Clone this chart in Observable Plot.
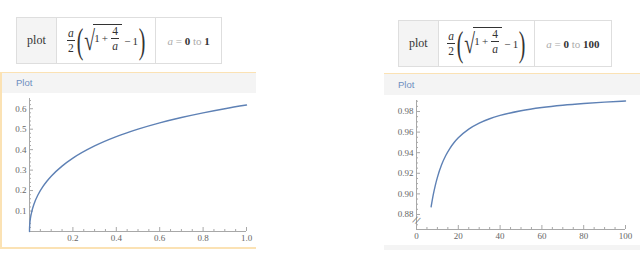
<!DOCTYPE html>
<html><head><meta charset="utf-8">
<script src="https://cdn.jsdelivr.net/npm/d3@7"></script>
<script src="https://cdn.jsdelivr.net/npm/@observablehq/plot@0.6"></script>
<style>
html,body{margin:0;padding:0;background:#fff;}
#root{position:relative;width:640px;height:266px;overflow:hidden;}
.abs{position:absolute;}
.box{position:absolute;display:flex;border:1px solid #dedede;box-sizing:border-box;background:#fff;}
.cell{display:flex;align-items:center;justify-content:center;box-sizing:border-box;font-family:"Liberation Serif",serif;color:#333;}
.cell+.cell{border-left:1px solid #dedede;}
.pl{background:#f4f4f4;font-size:12px;}
.frac{display:inline-flex;flex-direction:column;align-items:center;vertical-align:middle;font-size:11.5px;line-height:12px;margin:0 1px;}
.frac > span:first-child{border-bottom:0.8px solid #333;padding:0 1px 1px 1px;}
.frac > span:last-child{padding-top:1px;}
.paren{font-size:36px;line-height:36px;transform:scaleX(0.55);display:inline-block;vertical-align:middle;font-weight:300;color:#333;margin:0 -2px;}
.sqrt{font-size:28px;line-height:28px;display:inline-block;vertical-align:middle;transform:scaleX(0.7);margin-right:-4px;margin-left:-2px;}
.rad{display:inline-flex;align-items:center;border-top:0.8px solid #333;font-size:11px;padding:0 2px 0 1px;margin-top:-6px;}
.f{font-size:11px;display:flex;align-items:center;}
.rng{font-size:11px;color:#aaa;}
.rng b{color:#333;}
.hdr{position:absolute;background:#f4f4f4;font-family:"Liberation Sans",Arial,sans-serif;font-size:9.5px;color:#6e8fc0;box-sizing:border-box;}
</style></head>
<body><div id="root">
  <div class="box" style="left:16px;top:17px;width:206px;height:47px">
    <div class="cell pl" style="width:39px">plot</div>
    <div class="cell f" style="width:100px"><span class="frac"><span><i>a</i></span><span>2</span></span><span class="paren">(</span><span class="sqrt">√</span><span class="rad">1&thinsp;+&thinsp;<span class="frac"><span>4</span><span><i>a</i></span></span></span>&thinsp;−&thinsp;1<span class="paren">)</span></div>
    <div class="cell rng" style="width:66px"><i>a</i>&nbsp;=&nbsp;<b>0</b>&nbsp;to&nbsp;<b>1</b></div>
  </div>
  <div class="box" style="left:398px;top:20px;width:214px;height:47px">
    <div class="cell pl" style="width:39px">plot</div>
    <div class="cell f" style="width:97px"><span class="frac"><span><i>a</i></span><span>2</span></span><span class="paren">(</span><span class="sqrt">√</span><span class="rad">1&thinsp;+&thinsp;<span class="frac"><span>4</span><span><i>a</i></span></span></span>&thinsp;−&thinsp;1<span class="paren">)</span></div>
    <div class="cell rng" style="width:78px"><i>a</i>&nbsp;=&nbsp;<b>0</b>&nbsp;to&nbsp;<b>100</b></div>
  </div>

  <div class="abs" style="left:0;top:72px;width:256px;height:177px;border-top:1px solid #fbe2b4;border-left:2px solid #fbe2b4;border-bottom:2px solid #fbe2b4;box-sizing:border-box;"></div>
  <div class="hdr" style="left:2px;top:73px;width:254px;height:20px;padding:4px 0 0 14px;">Plot</div>
  <div id="p1" class="abs" style="left:0;top:93px;"></div>

  <div class="abs" style="left:384px;top:73px;width:256px;height:1px;background:#fbe2b4;"></div>
  <div class="hdr" style="left:384px;top:74px;width:256px;height:21px;padding:5px 0 0 14px;">Plot</div>
  <div id="p2" class="abs" style="left:384px;top:95px;"></div>
  <div class="abs" style="left:384px;top:245px;width:256px;height:5px;background:#f4f4f4;"></div>
</div>
<script>
// ---- data: left chart (a from 0 to 1) ----
const aLeft = [0, 0.0002, 0.001, 0.005, 0.01, 0.02, 0.04, 0.06, 0.08, 0.1, 0.15, 0.2, 0.3, 0.4, 0.5, 0.6, 0.7, 0.8, 0.9, 1.0];
const fLeft = [0, 0.0140, 0.0311, 0.0683, 0.0951, 0.1318, 0.1810, 0.2168, 0.2457, 0.2702, 0.3195, 0.3583, 0.4179, 0.4633, 0.5000, 0.5307, 0.5569, 0.5798, 0.6000, 0.6180];
const xTicksLeft = [0.2, 0.4, 0.6, 0.8, 1.0];
const xMinorLeft = [0.05,0.1,0.15,0.25,0.3,0.35,0.45,0.5,0.55,0.65,0.7,0.75,0.85,0.9,0.95];
const yTicksLeft = [0.1, 0.2, 0.3, 0.4, 0.5, 0.6];
const yMinorLeft = [0.02,0.04,0.06,0.08,0.12,0.14,0.16,0.18,0.22,0.24,0.26,0.28,0.32,0.34,0.36,0.38,0.42,0.44,0.46,0.48,0.52,0.54,0.56,0.58,0.62,0.64];

// ---- data: right chart (a from 0 to 100) ----
const aRight = [7, 8, 9, 10, 12, 14, 16, 18, 20, 25, 30, 35, 40, 50, 60, 70, 80, 90, 100];
const fRight = [0.88748, 0.89898, 0.90833, 0.91608, 0.92820, 0.93725, 0.94427, 0.94987, 0.95445, 0.96291, 0.96872, 0.97296, 0.97618, 0.98076, 0.98387, 0.98611, 0.98780, 0.98913, 0.99020];
const xTicksRight = [0, 20, 40, 60, 80, 100];
const xMinorRight = [5,10,15,25,30,35,45,50,55,65,70,75,85,90,95];
const yTicksRight = [0.88, 0.90, 0.92, 0.94, 0.96, 0.98];
const yMinorRight = [0.87,0.885,0.89,0.895,0.905,0.91,0.915,0.925,0.93,0.935,0.945,0.95,0.955,0.965,0.97,0.975,0.985,0.99];
const breakAt = [0.8745];

const lineColor = "#5e81b5";
const axisColor = "#a8a8a8";
const labelStyle = {fontFamily: "'Liberation Serif', serif", fontSize: "9px", color: "#666", background: "transparent", overflow: "visible"};

function chart({w, h, mt, mr, mb, ml, xd, yd, xs, ys, xT, xM, yT, yM, xFmt, yFmt, extra = []}) {
  const ph = h - mt - mb, pw = w - ml - mr;
  return Plot.plot({
    width: w, height: h, marginTop: mt, marginRight: mr, marginBottom: mb, marginLeft: ml,
    x: {domain: xd, axis: null},
    y: {domain: yd, axis: null},
    style: labelStyle,
    marks: [
      Plot.ruleX([xd[0]], {stroke: axisColor}),
      Plot.ruleY([yd[0]], {stroke: axisColor}),
      Plot.tickX(xT, {x: d => d, stroke: axisColor, insetTop: ph - 4}),
      Plot.tickX(xM, {x: d => d, stroke: axisColor, insetTop: ph - 2}),
      Plot.tickY(yT, {y: d => d, stroke: axisColor, insetRight: pw - 4}),
      Plot.tickY(yM, {y: d => d, stroke: axisColor, insetRight: pw - 2}),
      Plot.axisX(xT, {tickSize: 0, tickPadding: 3, tickFormat: xFmt, fill: "#666", label: null}),
      Plot.axisY(yT, {tickSize: 0, tickPadding: 3, tickFormat: yFmt, fill: "#666", label: null}),
      ...extra,
      Plot.line(xs.map((x, i) => ({x, y: ys[i]})), {x: "x", y: "y", stroke: lineColor, strokeWidth: 1.4, curve: "monotone-x"})
    ]
  });
}

document.getElementById("p1").append(chart({
  w: 256, h: 155, mt: 5, mr: 10, mb: 17, ml: 29,
  xd: [0, 1], yd: [0, 0.65], xs: aLeft, ys: fLeft,
  xT: xTicksLeft, xM: xMinorLeft, yT: yTicksLeft, yM: yMinorLeft,
  xFmt: d3.format(".1f"), yFmt: d3.format(".1f")
}));

document.getElementById("p2").append(chart({
  w: 256, h: 150, mt: 5, mr: 15, mb: 16, ml: 32,
  xd: [0, 100], yd: [0.8654, 0.9907], xs: aRight, ys: fRight,
  xT: xTicksRight, xM: xMinorRight, yT: yTicksRight, yM: yMinorRight,
  xFmt: d3.format("d"), yFmt: d3.format(".2f"),
  extra: [
    Plot.text(breakAt, {x: 0, y: d => d, text: () => "//", rotate: 25, fontSize: 9, fontFamily: "'DejaVu Sans', sans-serif", fill: "#777"})
  ]
}));
</script>
</body></html>
